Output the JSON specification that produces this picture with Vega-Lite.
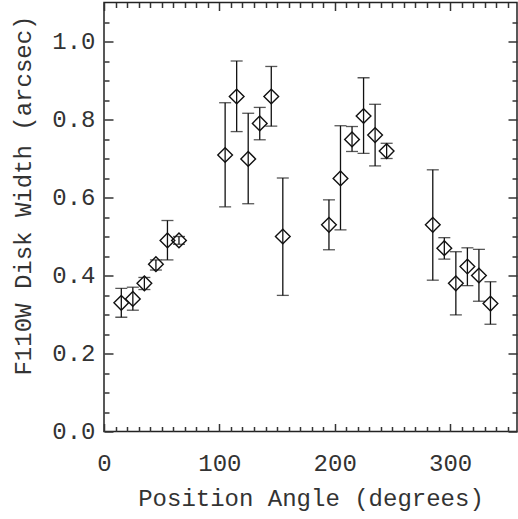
{
  "$schema": "https://vega.github.io/schema/vega-lite/v6.json",
  "autosize": "none",
  "width": 413,
  "height": 429,
  "padding": {"left": 104, "top": 2.5, "right": 1, "bottom": 87.5},
  "background": "white",
  "config": {
    "view": {"stroke": "#222", "strokeWidth": 1.5},
    "axis": {
      "domain": false,
      "grid": false,
      "labelFlush": false,
      "labelOverlap": false,
      "tickColor": "#333",
      "tickWidth": 1.5,
      "labelFont": "Liberation Mono",
      "labelFontSize": 24,
      "labelColor": "#333",
      "titleFont": "Liberation Mono",
      "titleFontSize": 24,
      "titleFontWeight": "normal",
      "titleColor": "#333"
    }
  },
  "data": {
    "values": [
      {"pa": 15, "w": 0.330, "lo": 0.293, "hi": 0.367},
      {"pa": 25, "w": 0.340, "lo": 0.311, "hi": 0.370},
      {"pa": 35, "w": 0.380, "lo": 0.364, "hi": 0.395},
      {"pa": 45, "w": 0.429, "lo": 0.414, "hi": 0.440},
      {"pa": 55, "w": 0.490, "lo": 0.440, "hi": 0.541},
      {"pa": 65, "w": 0.490, "lo": 0.480, "hi": 0.500},
      {"pa": 105, "w": 0.709, "lo": 0.576, "hi": 0.843},
      {"pa": 115, "w": 0.859, "lo": 0.769, "hi": 0.950},
      {"pa": 125, "w": 0.699, "lo": 0.584, "hi": 0.816},
      {"pa": 135, "w": 0.790, "lo": 0.748, "hi": 0.831},
      {"pa": 145, "w": 0.859, "lo": 0.783, "hi": 0.936},
      {"pa": 155, "w": 0.500, "lo": 0.349, "hi": 0.650},
      {"pa": 195, "w": 0.530, "lo": 0.466, "hi": 0.594},
      {"pa": 205, "w": 0.649, "lo": 0.517, "hi": 0.784},
      {"pa": 215, "w": 0.749, "lo": 0.718, "hi": 0.782},
      {"pa": 225, "w": 0.809, "lo": 0.713, "hi": 0.907},
      {"pa": 235, "w": 0.760, "lo": 0.681, "hi": 0.839},
      {"pa": 245, "w": 0.719, "lo": 0.700, "hi": 0.739},
      {"pa": 285, "w": 0.530, "lo": 0.388, "hi": 0.671},
      {"pa": 295, "w": 0.470, "lo": 0.442, "hi": 0.497},
      {"pa": 305, "w": 0.380, "lo": 0.299, "hi": 0.461},
      {"pa": 315, "w": 0.423, "lo": 0.374, "hi": 0.471},
      {"pa": 325, "w": 0.400, "lo": 0.334, "hi": 0.467},
      {"pa": 335, "w": 0.328, "lo": 0.275, "hi": 0.384}
    ]
  },
  "resolve": {"axis": {"x": "independent", "y": "independent"}},
  "layer": [
    {
      "mark": {"type": "rule", "color": "#111", "strokeWidth": 1.3},
      "encoding": {
        "x": {"field": "pa", "type": "quantitative",
          "scale": {"domain": [0, 358], "nice": false, "zero": false},
          "axis": {"orient": "bottom", "values": [0, 100, 200, 300], "tickSize": -8, "labelPadding": 28, "labelBaseline": "top",
                   "title": "Position Angle (degrees)", "titleBaseline": "alphabetic", "titleY": 73.5, "titleX": 206.5, "titleAnchor": "middle"}},
        "y": {"field": "lo", "type": "quantitative",
          "scale": {"domain": [0, 1.1], "nice": false, "zero": false},
          "axis": {"orient": "left", "values": [0, 0.2, 0.4, 0.6, 0.8, 1.0], "format": ".1f", "tickSize": -9, "labelPadding": 18,
                   "title": "F110W Disk Width (arcsec)", "titleAngle": -90, "titleBaseline": "alphabetic", "titleAlign": "center", "titleX": -74, "titleY": 192.5}},
        "y2": {"field": "hi"}
      }
    },
    {
      "mark": {"type": "tick", "orient": "horizontal", "color": "#111", "size": 12, "thickness": 1.3},
      "encoding": {
        "x": {"field": "pa", "type": "quantitative",
          "axis": {"orient": "bottom", "values": [10, 20, 30, 40, 50, 60, 70, 80, 90, 110, 120, 130, 140, 150, 160, 170, 180, 190, 210, 220, 230, 240, 250, 260, 270, 280, 290, 310, 320, 330, 340, 350], "tickSize": -5, "labels": false, "title": null}},
        "y": {"field": "lo", "type": "quantitative",
          "axis": {"orient": "left", "values": [0.05, 0.1, 0.15, 0.25, 0.3, 0.35, 0.45, 0.5, 0.55, 0.65, 0.7, 0.75, 0.85, 0.9, 0.95, 1.05], "tickSize": -5, "labels": false, "title": null}}
      }
    },
    {
      "mark": {"type": "tick", "orient": "horizontal", "color": "#111", "size": 12, "thickness": 1.3},
      "encoding": {
        "x": {"field": "pa", "type": "quantitative",
          "axis": {"orient": "top", "values": [0, 100, 200, 300], "tickSize": -8, "labels": false, "title": null}},
        "y": {"field": "hi", "type": "quantitative",
          "axis": {"orient": "right", "values": [0, 0.2, 0.4, 0.6, 0.8, 1.0], "tickSize": -9, "labels": false, "title": null}}
      }
    },
    {
      "mark": {"type": "point", "shape": "diamond", "filled": false, "color": "#111", "strokeWidth": 1.4, "size": 216, "opacity": 1},
      "encoding": {
        "x": {"field": "pa", "type": "quantitative",
          "axis": {"orient": "top", "values": [10, 20, 30, 40, 50, 60, 70, 80, 90, 110, 120, 130, 140, 150, 160, 170, 180, 190, 210, 220, 230, 240, 250, 260, 270, 280, 290, 310, 320, 330, 340, 350], "tickSize": -5, "labels": false, "title": null}},
        "y": {"field": "w", "type": "quantitative",
          "axis": {"orient": "right", "values": [0.05, 0.1, 0.15, 0.25, 0.3, 0.35, 0.45, 0.5, 0.55, 0.65, 0.7, 0.75, 0.85, 0.9, 0.95, 1.05], "tickSize": -5, "labels": false, "title": null}}
      }
    }
  ]
}
